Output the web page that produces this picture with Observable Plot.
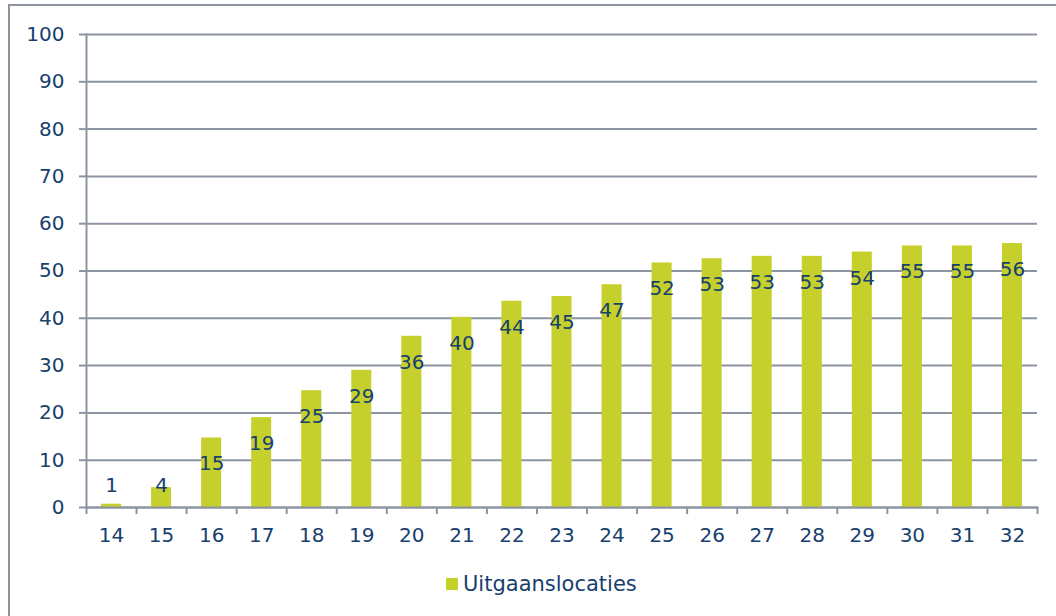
<!DOCTYPE html>
<html>
<head>
<meta charset="utf-8">
<script src="https://cdn.jsdelivr.net/npm/d3@7"></script>
<script src="https://cdn.jsdelivr.net/npm/@observablehq/plot@0.6"></script>
<style>
  html, body { margin: 0; padding: 0; background: #fff; width: 1056px; height: 616px; overflow: hidden; }
  #frame { position: absolute; left: 8px; top: 4px; width: 1100px; height: 700px; border-left: 2px solid #8c939e; border-top: 2px solid #8c939e; box-sizing: border-box; }
  #chart { position: absolute; left: 0; top: 0; }
  #legend { position: absolute; left: 446px; top: 572px; font-family: "DejaVu Sans", Verdana, sans-serif; font-size: 21px; color: #17406d; display: flex; align-items: center; }
  #legend .sw { width: 12px; height: 12px; background: #c5d02d; margin-right: 5px; }
</style>
</head>
<body>
<div id="frame"></div>
<div id="chart"></div>
<div id="legend"><span class="sw"></span><span id="legendText"></span></div>
<script>
const categories = [14, 15, 16, 17, 18, 19, 20, 21, 22, 23, 24, 25, 26, 27, 28, 29, 30, 31, 32];
const values = [0.7, 4.2, 14.7, 19, 24.7, 29, 36.2, 40.2, 43.6, 44.6, 47.1, 51.7, 52.6, 53.1, 53.1, 54, 55.3, 55.3, 55.8];
const labels = [1, 4, 15, 19, 25, 29, 36, 40, 44, 45, 47, 52, 53, 53, 53, 54, 55, 55, 56];
const yTicks = [0, 10, 20, 30, 40, 50, 60, 70, 80, 90, 100];
const seriesName = "Uitgaanslocaties";

document.getElementById("legendText").textContent = seriesName;

const data = categories.map((c, i) => ({cat: c, value: values[i], label: labels[i]}));
const boundaries = categories.map(c => c - 0.5).concat([categories[categories.length - 1] + 0.5]);

const textColor = "#17406d";
const gridColor = "#8d94a1";
const barColor = "#c5d02d";
const font = "DejaVu Sans, Verdana, sans-serif";

const chart = Plot.plot({
  width: 1056,
  height: 560,
  marginLeft: 86,
  marginRight: 19,
  marginTop: 34,
  marginBottom: 53,
  style: {fontFamily: font, fontSize: "20px", color: textColor, background: "transparent", overflow: "visible"},
  x: {type: "linear", domain: [13.5, 32.5]},
  y: {domain: [0, 100]},
  marks: [
    Plot.ruleY(yTicks, {stroke: gridColor, strokeWidth: 2}),
    Plot.axisY({ticks: yTicks, tickSize: 7, tickPadding: 15, stroke: gridColor, strokeWidth: 2, strokeOpacity: 1, fill: textColor, label: null, fontSize: 20}),
    Plot.axisX({ticks: boundaries, tickSize: 7, tickFormat: () => "", stroke: gridColor, strokeWidth: 2, strokeOpacity: 1, label: null}),
    Plot.axisX({ticks: categories, tickSize: 0, tickPadding: 20, tickFormat: d => String(d), fill: textColor, label: null, fontSize: 20}),
    Plot.rect(data, {x1: d => d.cat - 0.2, x2: d => d.cat + 0.2, y1: 0, y2: "value", fill: barColor}),
    Plot.frame({anchor: "left", stroke: gridColor, strokeWidth: 2, strokeOpacity: 1}),
    Plot.frame({anchor: "bottom", stroke: gridColor, strokeWidth: 2, strokeOpacity: 1}),
    Plot.text(data, {x: "cat", y: d => Math.max(d.value - 5.5, 4.65), text: d => String(d.label), fill: textColor, fontSize: 20, fontFamily: font})
  ]
});
document.getElementById("chart").appendChild(chart);
</script>
</body>
</html>
